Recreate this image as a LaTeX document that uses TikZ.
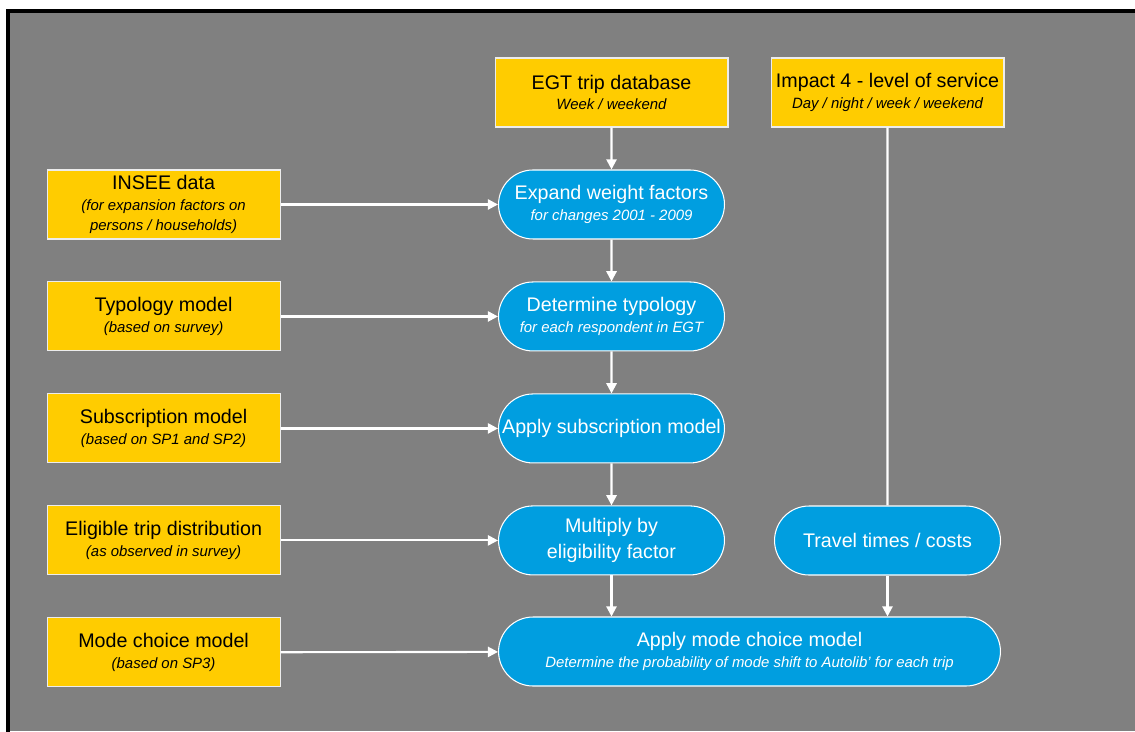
\documentclass[tikz,border=0pt]{standalone}
\usepackage{fontspec}
\setmainfont{Liberation Sans}
\usepackage{tikz}
\usetikzlibrary{arrows.meta}
\usetikzlibrary{positioning}
\usetikzlibrary{shapes.misc}
\definecolor{boxyellow}{RGB}{255,204,0}
\definecolor{boxblue}{RGB}{0,158,224}
\definecolor{backgray}{RGB}{128,128,128}
\newcommand{\subtxt}[1]{{\fontsize{8.5}{10.2}\selectfont\itshape #1}}
\tikzset{
  srcbox/.style={draw=white!85!gray,line width=0.6pt,fill=boxyellow,text=black,
    minimum width=4.66cm,minimum height=1.38cm,align=center,inner sep=2pt},
  stepbox/.style={rounded rectangle,draw=white,line width=0.6pt,fill=boxblue,text=white,
    minimum width=4.66cm,minimum height=1.38cm,align=center,inner sep=2pt},
  flow/.style={draw=white,line width=1.2pt,-{Triangle[length=5.8pt,width=5.8pt]}},
  plain/.style={draw=white,line width=1.2pt}
}

\begin{document}
\begin{tikzpicture}[x=0.02cm,y=-0.02cm,node distance=2.24cm,
  every node/.style={font=\fontsize{11.2}{11.6}\selectfont}]
  \useasboundingbox (0,0) rectangle (1135,731);
  \fill[backgray] (8,11) rectangle (1135,731);
  \draw[line width=1.8pt,line cap=rect] (8,731)--(8,11)--(1135,11);
  % middle column
  \node[srcbox] (1) at (611.5,92.5) {EGT trip database\\ \subtxt{Week / weekend}};
  \node[stepbox,below of=1] (4) {Expand weight factors\\ \subtxt{for changes 2001 - 2009}};
  \node[stepbox,below of=4] (6) {Determine typology\\ \subtxt{for each respondent in EGT}};
  \node[stepbox,below of=6] (8) {Apply subscription model};
  \node[stepbox,below of=8] (10) {Multiply by\\[3pt] eligibility factor};
  % left column
  \node[srcbox,left of=4,node distance=8.96cm] (3) {INSEE data\\ \subtxt{(for expansion factors on}\\ \subtxt{persons / households)}};
  \node[srcbox,left of=6,node distance=8.96cm] (5) {Typology model\\ \subtxt{(based on survey)}};
  \node[srcbox,left of=8,node distance=8.96cm] (7) {Subscription model\\ \subtxt{(based on SP1 and SP2)}};
  \node[srcbox,left of=10,node distance=8.96cm] (9) {Eligible trip distribution\\ \subtxt{(as observed in survey)}};
  \node[srcbox,below of=9] (12) {Mode choice model\\ \subtxt{(based on SP3)}};
  % right column
  \node[srcbox] (2) at (887.5,92.5) {Impact 4 - level of service\\ \subtxt{Day / night / week / weekend}};
  \node[stepbox] (11) at (887.5,540.5) {Travel times / costs};
  \node[stepbox,minimum width=10.18cm] (13) at (749.5,651.5) {Apply mode choice model\\ \subtxt{Determine the probability of mode shift to Autolib' for each trip}};
  \draw[flow](1)--(4);
  \draw[flow](4)--(6);
  \draw[flow](6)--(8);
  \draw[flow](8)--(10);
  \draw[flow](10.south)--(10.south |- 13.north);
  \draw[plain](2)--(11);
  \draw[flow](11.south)--(11.south |- 13.north);
  \draw[flow](3)--(4);
  \draw[flow](5)--(6);
  \draw[flow](7)--(8);
  \draw[flow](9)--(10);
  \draw[flow](12)--(13);
\end{tikzpicture}
\end{document}
